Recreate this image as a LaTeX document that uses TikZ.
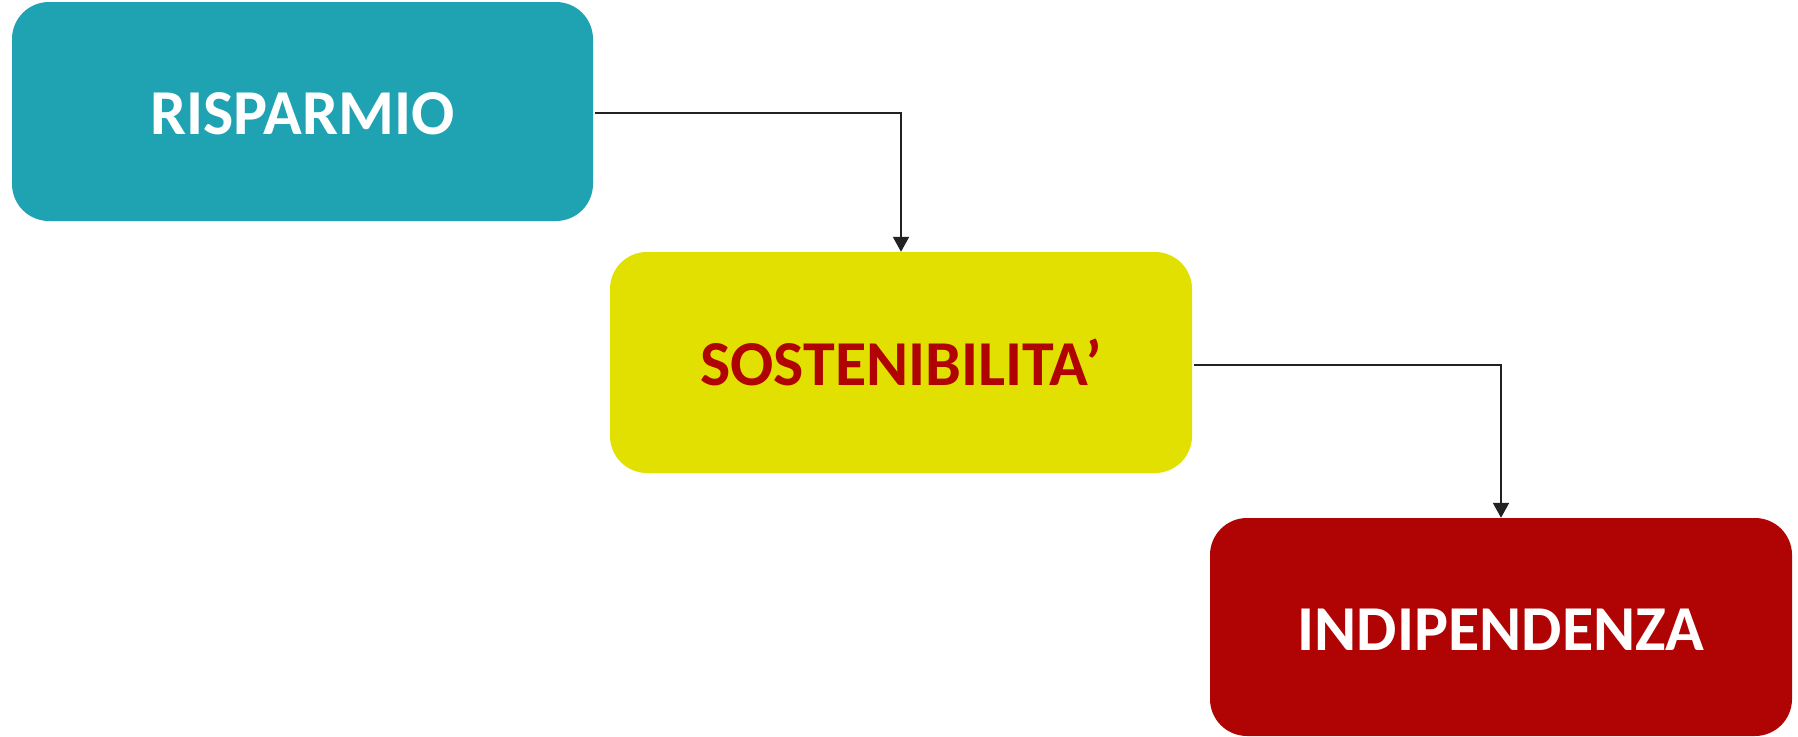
\documentclass[tikz,border=0pt]{standalone}
\usepackage{fontspec}
\setmainfont{Carlito}
\usetikzlibrary{arrows.meta}
\definecolor{teal1}{HTML}{1FA3B2}
\definecolor{yel1}{HTML}{E1E000}
\definecolor{red1}{HTML}{B00404}
\definecolor{line1}{HTML}{222222}
\tikzset{
  box/.style={rectangle, draw=none, inner sep=0pt, rounded corners=37pt,
    minimum width=581pt, minimum height=219pt, text height=46pt, text depth=0pt,
    font=\fontsize{64}{70}\selectfont\bfseries},
  conn/.style={draw=line1, line width=2pt, -{Triangle[width=16pt,length=15pt]}}
}
\begin{document}
\begin{tikzpicture}[x=1pt,y=-1pt]
\useasboundingbox (0,0) rectangle (1798,736);
\node[box, fill=teal1, text=white] (b1) at (302.5,111.5) {RISPARMIO};
\node[box, fill=yel1, text=red1, minimum width=582pt, minimum height=221pt] (b2) at (901,362.5) {SOSTENIBILITA’};
\node[box, fill=red1, text=white, minimum width=582pt, minimum height=218pt] (b3) at (1501,627) {INDIPENDENZA};
\draw[conn] ([xshift=2pt,yshift=-1.5pt]b1.east) -| (b2.north);
\draw[conn] ([xshift=2pt,yshift=-2.5pt]b2.east) -| (b3.north);
\end{tikzpicture}
\end{document}
